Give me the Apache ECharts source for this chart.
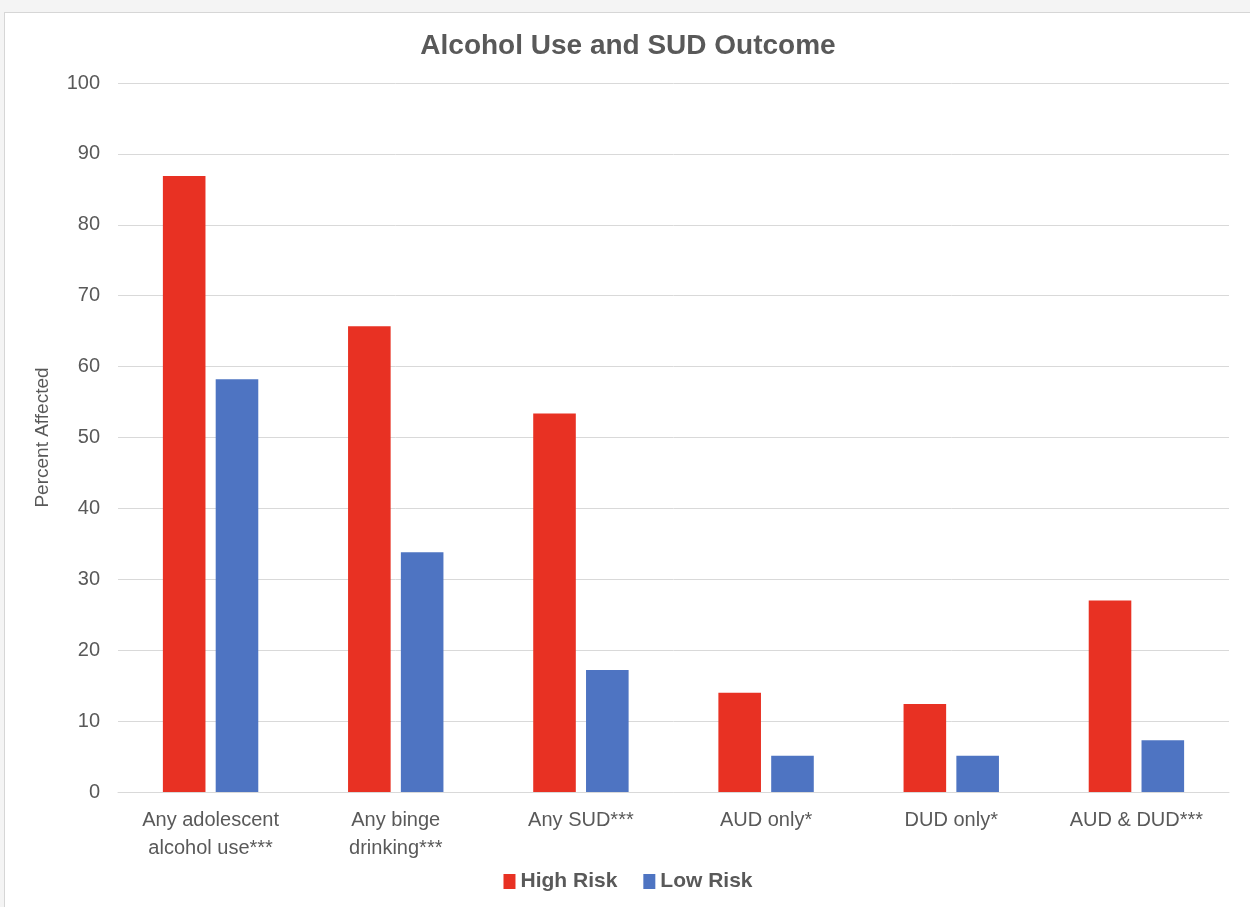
<!DOCTYPE html>
<html>
<head>
<meta charset="utf-8">
<script src="https://cdn.jsdelivr.net/npm/echarts@6/dist/echarts.min.js"></script>
<style>
  html, body { margin: 0; padding: 0; background: #f4f4f4; }
  #main {
    position: absolute; left: 4px; top: 12px; width: 1246px; height: 895px;
    background: #fff; border-left: 1px solid #d6d6d6; border-top: 1px solid #d6d6d6;
  }
</style>
</head>
<body>
<div id="main"></div>
<script>
// data
var categories = ['Any adolescent\nalcohol use***', 'Any binge\ndrinking***', 'Any SUD***', 'AUD only*', 'DUD only*', 'AUD & DUD***'];
var highRisk = [86.9, 65.7, 53.4, 14.0, 12.4, 27.0];
var lowRisk = [58.2, 33.8, 17.2, 5.1, 5.1, 7.3];

var chart = echarts.init(document.getElementById('main'));

var font = 'Liberation Sans, Arial, sans-serif';
var option = {
  textStyle: { fontFamily: font },
  title: {
    text: 'Alcohol Use and SUD Outcome',
    left: 'center',
    top: 14,
    textStyle: { fontSize: 28, fontWeight: 'bold', color: '#595959', fontFamily: font }
  },
  legend: {
    bottom: 11,
    left: 'center',
    itemWidth: 12,
    itemHeight: 15,
    itemGap: 26,
    icon: 'rect',
    textStyle: { fontSize: 21, fontWeight: 'bold', color: '#595959', fontFamily: font },
    data: ['High Risk', 'Low Risk']
  },
  grid: { left: 113, right: 22, top: 70, bottom: 116 },
  xAxis: {
    type: 'category',
    data: categories,
    axisTick: { show: false },
    axisLine: { lineStyle: { color: '#d9d9d9', width: 1 } },
    axisLabel: { fontSize: 20, color: '#595959', margin: 14, lineHeight: 28, fontFamily: font, interval: 0 }
  },
  yAxis: {
    type: 'value',
    min: 0,
    max: 100,
    interval: 10,
    name: 'Percent Affected',
    nameLocation: 'middle',
    nameGap: 66,
    nameTextStyle: { fontSize: 19, color: '#595959', fontFamily: font },
    axisLine: { show: false },
    axisTick: { show: false },
    axisLabel: { fontSize: 20, color: '#595959', margin: 18, fontFamily: font },
    splitLine: { lineStyle: { color: '#d9d9d9', width: 1 } }
  },
  series: [
    {
      name: 'High Risk',
      type: 'bar',
      data: highRisk,
      barWidth: '23%',
      barGap: '24%',
      itemStyle: { color: '#e83123' }
    },
    {
      name: 'Low Risk',
      type: 'bar',
      data: lowRisk,
      barWidth: '23%',
      itemStyle: { color: '#4e74c2' }
    }
  ]
};
chart.setOption(option);
</script>
</body>
</html>
